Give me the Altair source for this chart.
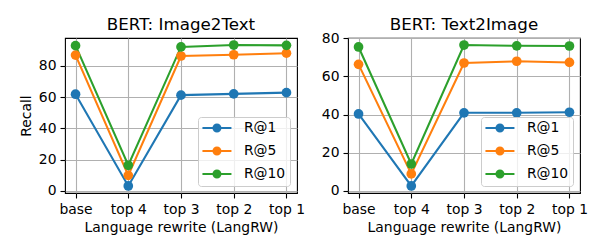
import altair as alt
import pandas as pd

categories = ["base", "top 4", "top 3", "top 2", "top 1"]
series = ["R@1", "R@5", "R@10"]

i2t_r1 = [61.8, 3.2, 61.2, 62.0, 62.8]
i2t_r5 = [86.8, 10.0, 86.2, 87.0, 88.0]
i2t_r10 = [92.8, 16.4, 92.0, 93.2, 93.0]

t2i_r1 = [40.3, 2.6, 40.9, 40.9, 41.2]
t2i_r5 = [66.3, 8.9, 67.0, 67.9, 67.3]
t2i_r10 = [75.4, 14.1, 76.4, 76.0, 75.9]

colors = ["#1f77b4", "#ff7f0e", "#2ca02c"]
FONT = "DejaVu Sans"

legend_path = ("M-2.9,0 L2.9,0 "
               "M0.7,0 A0.7,0.7 0 1,1 -0.7,0 A0.7,0.7 0 1,1 0.7,0 Z")


def make_df(vals):
    rows = []
    for s, v in zip(series, vals):
        for c, y in zip(categories, v):
            rows.append({"cat": c, "series": s, "value": y})
    return pd.DataFrame(rows)


def legend():
    return alt.Legend(title=None, orient="bottom-right", offset=7,
                      symbolType=legend_path, symbolSize=100,
                      symbolStrokeWidth=2, symbolOpacity=1,
                      symbolOffset=8, labelOffset=20,
                      rowPadding=7, padding=4,
                      fillColor="rgba(255,255,255,0.8)",
                      strokeColor="#cccccc", cornerRadius=3,
                      labelFontSize=13.9, labelFont=FONT,
                      labelColor="black")


def panel(vals, title, ytitle, title_offset):
    df = make_df(vals)
    allv = [y for v in vals for y in v]
    lo, hi = min(allv), max(allv)
    m = (hi - lo) * 0.05
    x = alt.X("cat:N", sort=categories, scale=alt.Scale(type="point", padding=0.2),
              axis=alt.Axis(title="Language rewrite (LangRW)", labelAngle=0, grid=True))
    y = alt.Y("value:Q", scale=alt.Scale(domain=[lo - m, hi + m], nice=False, zero=False),
              axis=alt.Axis(title=ytitle, values=[0, 20, 40, 60, 80], grid=True))
    cscale = alt.Scale(domain=series, range=colors)
    line = alt.Chart(df).mark_line(strokeWidth=2.08).encode(
        x=x, y=y,
        color=alt.Color("series:N", scale=cscale, sort=series, legend=legend()),
        detail="series:N",
    )
    pts = alt.Chart(df).mark_point(filled=True, size=94, opacity=1).encode(
        x=x, y=y,
        color=alt.Color("series:N", scale=cscale, sort=series, legend=legend()),
    )
    return alt.layer(line, pts).properties(
        width=232, height=155,
        title=alt.TitleParams(title, fontSize=16.7, font=FONT, fontWeight="normal",
                              color="black", offset=title_offset, frame="group"),
    )


left = panel([i2t_r1, i2t_r5, i2t_r10], "BERT: Image2Text", "Recall", 4)
right = panel([t2i_r1, t2i_r5, t2i_r10], "BERT: Text2Image", None, -3)

chart = alt.hconcat(left, right, spacing=51, bounds="flush").resolve_legend(
    color="independent"
).resolve_scale(y="independent").properties(
    padding={"left": 10, "top": 8, "right": 0, "bottom": 0}
).configure_view(
    stroke="black", strokeWidth=1.1
).configure_axis(
    labelFont=FONT, titleFont=FONT, labelFontSize=13.9, titleFontSize=13.9,
    titleFontWeight="normal", labelColor="black", titleColor="black",
    domain=False, tickColor="black", tickSize=5, tickWidth=1.1,
    gridColor="#b0b0b0", gridWidth=1.1, gridOpacity=1,
    labelPadding=4, titlePadding=5,
)

chart.save("out.html", embed_options={"renderer": "svg", "actions": False})
